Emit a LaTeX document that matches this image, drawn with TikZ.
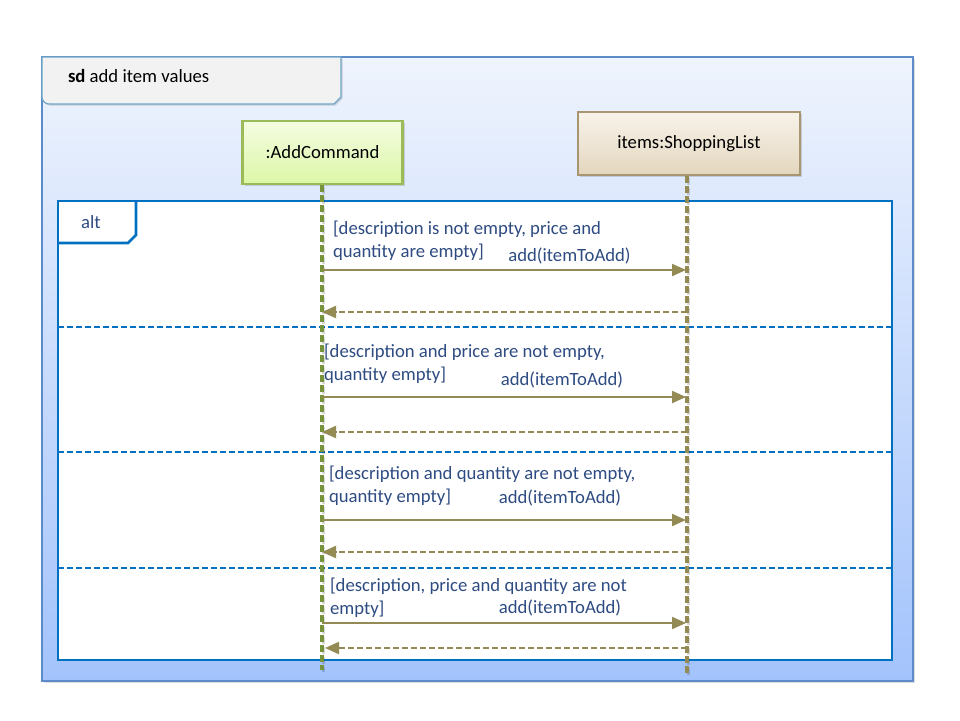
\documentclass[tikz,border=0pt]{standalone}
\usepackage{fontspec}
\setmainfont{Carlito}
\usetikzlibrary{arrows.meta,shadows}
\definecolor{framebd}{HTML}{5B8BC9}
\definecolor{fgtop}{HTML}{EFF4FD}
\definecolor{fgbot}{HTML}{A3C3FC}
\definecolor{tabfill}{HTML}{F2F2F2}
\definecolor{tabbd}{HTML}{6FA6C8}
\definecolor{altblue}{HTML}{0070C0}
\definecolor{alttext}{HTML}{2E4C82}
\definecolor{msgtext}{HTML}{2E4C82}
\definecolor{acbd}{HTML}{9BBB59}
\definecolor{actop}{HTML}{F4FCE2}
\definecolor{acbot}{HTML}{DCF7A6}
\definecolor{acline}{HTML}{77933C}
\definecolor{slbd}{HTML}{A89672}
\definecolor{sltop}{HTML}{F8F3EA}
\definecolor{slbot}{HTML}{E3D6BE}
\definecolor{slline}{HTML}{948A54}
\definecolor{msgcol}{HTML}{948A54}
\tikzset{
  txt/.style={font=\fontsize{18.7}{23}\selectfont, inner sep=0pt, outer sep=0pt},
  framebox/.style={draw=framebd, line width=1.2pt, top color=fgtop, bottom color=fgbot,
     minimum width=871, minimum height=624, anchor=north west, inner sep=0pt, outer sep=0pt,
     drop shadow={opacity=0.25, shadow xshift=2pt, shadow yshift=-2pt}},
  partbox/.style={line width=2.5pt, minimum height=63, inner sep=0pt, outer sep=0pt,
     font=\fontsize{18.7}{23}\selectfont, text=black,
     drop shadow={opacity=0.3, shadow xshift=2pt, shadow yshift=-2pt}},
  acbox/.style={partbox, draw=acbd, top color=actop, bottom color=acbot, minimum width=160},
  slbox/.style={partbox, draw=slbd, top color=sltop, bottom color=slbot, minimum width=222},
  altframe/.style={draw=altblue, line width=2.6pt, fill=white, minimum width=834, minimum height=459,
     anchor=north west, inner sep=0pt, outer sep=0pt},
  divider/.style={draw=altblue, line width=2pt, dash pattern=on 6pt off 3pt},
  lifeshadow/.style={draw=black, opacity=0.15, line width=3.2pt, dash pattern=on 7pt off 3pt},
  acllife/.style={draw=acline, line width=3.2pt, dash pattern=on 7pt off 3pt},
  sllife/.style={draw=slline, line width=3.2pt, dash pattern=on 7pt off 3pt},
  callmsg/.style={draw=msgcol, line width=2pt, -{Triangle[length=14pt,width=12pt]}},
  retmsg/.style={draw=msgcol, line width=2pt, dash pattern=on 6pt off 3pt, -{Triangle[length=14pt,width=12pt]}},
  guard/.style={txt, text=msgtext, align=left, anchor=west},
  msglabel/.style={txt, text=msgtext, anchor=center}
}
\begin{document}
\begin{tikzpicture}[x=1pt,y=-1pt]
\useasboundingbox (0,0) rectangle (960,720);
\fill[white] (0,0) rectangle (960,720);
% outer frame
\node[framebox] (frame) at (42,57) {};
% sd tab
\path[draw=tabbd, line width=1.2pt, fill=tabfill, drop shadow={opacity=0.3, shadow xshift=1.5pt, shadow yshift=-1.5pt}]
  (42,57) -- (341,57) -- (341,97) -- (334,104) [rounded corners=7pt] -- (42,104) [sharp corners] -- (42,57) -- cycle;
\node[txt, anchor=west] (sdlabel) at (68,76.5) {\textbf{sd} add item values};
% participants
\node[acbox] (ac) at (322.5,152.5) {:AddCommand};
\node[slbox] (sl) at (689,143.5) {items:ShoppingList};
% alt frame
\node[altframe] (alt) at (58,201) {};
\draw[altblue, line width=2.6pt] (136,201) -- (136,235) -- (128,243) -- (58,243);
\node[txt, text=alttext] (altlabel) at (91,222.5) {alt};
% dividers
\coordinate (d1w) at (58,327); \coordinate (d1e) at (892,327);
\coordinate (d2w) at (58,452); \coordinate (d2e) at (892,452);
\coordinate (d3w) at (58,568); \coordinate (d3e) at (892,568);
\draw[divider] (d1w) -- (d1e);
\draw[divider] (d2w) -- (d2e);
\draw[divider] (d3w) -- (d3e);
% lifelines
\coordinate (acstart) at (322,185); \coordinate (acend) at (322,670);
\coordinate (slstart) at (687,176); \coordinate (slend) at (687,674);
\draw[lifeshadow, transform canvas={xshift=1.5pt, yshift=-1.5pt}] (acstart) -- (acend);
\draw[lifeshadow, transform canvas={xshift=1.5pt, yshift=-1.5pt}] (slstart) -- (slend);
\draw[acllife] (acstart) -- (acend);
\draw[sllife] (slstart) -- (slend);
% message points
\coordinate (a1) at (322,270); \coordinate (b1) at (686,270);
\coordinate (b1r) at (687,312); \coordinate (a1r) at (322,312);
\coordinate (a2) at (322,397); \coordinate (b2) at (686,397);
\coordinate (b2r) at (687,432); \coordinate (a2r) at (322,432);
\coordinate (a3) at (322,520); \coordinate (b3) at (686,520);
\coordinate (b3r) at (687,552); \coordinate (a3r) at (322,552);
\coordinate (a4) at (322,623); \coordinate (b4) at (686,623);
\coordinate (b4r) at (687,648); \coordinate (a4r) at (325,648);
\draw[callmsg] (a1) -- (b1);
\draw[retmsg] (b1r) -- (a1r);
\draw[callmsg] (a2) -- (b2);
\draw[retmsg] (b2r) -- (a2r);
\draw[callmsg] (a3) -- (b3);
\draw[retmsg] (b3r) -- (a3r);
\draw[callmsg] (a4) -- (b4);
\draw[retmsg] (b4r) -- (a4r);
% guards and labels
\node[guard] (g1) at (333,241) {[description is not empty, price and\\quantity are empty]};
\node[msglabel] (m1) at (569.5,255.5) {add(itemToAdd)};
\node[guard] (g2) at (324,364) {[description and price are not empty,\\quantity empty]};
\node[msglabel] (m2) at (562,379.5) {add(itemToAdd)};
\node[guard] (g3) at (329,486) {[description and quantity are not empty,\\quantity empty]};
\node[msglabel] (m3) at (560,497.5) {add(itemToAdd)};
\node[guard] (g4) at (330,597.5) {[description, price and quantity are not\\empty]};
\node[msglabel] (m4) at (560,607.5) {add(itemToAdd)};
\end{tikzpicture}
\end{document}
